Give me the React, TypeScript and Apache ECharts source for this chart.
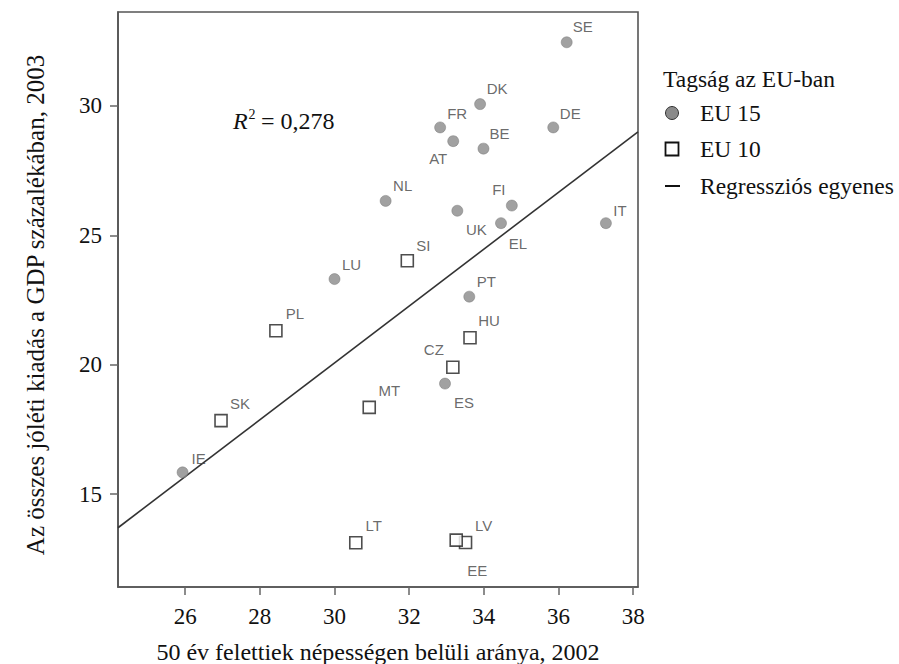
import React, { useEffect, useRef } from "react";
import * as echarts from "echarts";

// ---- data ----
const eu15Names = ["SE", "DK", "FR", "DE", "BE", "AT", "NL", "FI", "UK", "EL", "IT", "LU", "PT", "ES", "IE"];
const eu15X = [36.22, 33.9, 32.83, 35.86, 33.99, 33.18, 31.37, 34.75, 33.29, 34.46, 37.27, 30.0, 33.61, 32.96, 25.93];
const eu15Y = [32.46, 30.07, 29.17, 29.17, 28.35, 28.64, 26.33, 26.15, 25.95, 25.47, 25.47, 23.31, 22.63, 19.27, 15.84];

const eu10Names = ["SI", "PL", "HU", "CZ", "MT", "SK", "LT", "LV", "EE"];
const eu10X = [31.95, 28.43, 33.63, 33.17, 30.93, 26.96, 30.57, 33.51, 33.26];
const eu10Y = [24.02, 21.31, 21.04, 19.9, 18.35, 17.84, 13.12, 13.13, 13.22];

const regX = [24.2, 38.13];
const regY = [13.7, 29.0];

const xTicks = [26, 28, 30, 32, 34, 36, 38];
const yTicks = [15, 20, 25, 30];

const xTitle = "50 év felettiek népességen belüli aránya, 2002";
const yTitle = "Az összes jóléti kiadás a GDP százalékában, 2003";
const legendTitle = "Tagság az EU-ban";
const legendNames = ["EU 15", "EU 10", "Regressziós egyenes"];
const r2Text = "= 0,278";

// label placement (pixels, relative to the marker)
const labelOffsets: Record<string, [number, number]> = {
  SE: [16, -16], DK: [17, -16], FR: [17, -14], DE: [17, -14], BE: [16, -15],
  AT: [-15, 17], NL: [17, -15], FI: [-13, -16], UK: [19, 19], EL: [17, 20],
  IT: [14, -13], LU: [17, -15], PT: [17, -15], ES: [19, 19], IE: [16, -14],
  SI: [16, -15], PL: [19, -17], HU: [19, -17], CZ: [-19, -18], MT: [20, -17],
  SK: [19, -17], LT: [18, -17], LV: [18, -17], EE: [21, 30],
};

const SERIF = "'Liberation Serif', 'Times New Roman', serif";
const SANS = "'Liberation Sans', Arial, sans-serif";

function points(names: string[], xs: number[], ys: number[]) {
  return names.map((n, i) => ({
    name: n,
    value: [xs[i], ys[i]],
    label: { offset: labelOffsets[n] || [0, 0] },
  }));
}

export default function App() {
  const ref = useRef<HTMLDivElement>(null);
  useEffect(() => {
    if (!ref.current) return;
    const chart = echarts.init(ref.current, null, { renderer: "svg" });
    const labelStyle = {
      show: true,
      position: "inside",
      formatter: "{b}",
      fontFamily: SANS,
      fontSize: 15,
      color: "#444",
    };
    const legX = 672;
    chart.setOption({
      animation: false,
      backgroundColor: "#fff",
      grid: {
        left: 118,
        right: 899 - 638,
        top: 12,
        bottom: 664 - 587,
        show: true,
        borderColor: "#555",
        borderWidth: 1.6,
      },
      xAxis: {
        type: "value",
        min: 24.2,
        max: 38.13,
        axisLine: { show: true, lineStyle: { color: "#555", width: 1.6 } },
        axisTick: { show: true, customValues: xTicks, length: 8, lineStyle: { color: "#666", width: 1.5 } },
        axisLabel: { customValues: xTicks, margin: 18, fontFamily: SERIF, fontSize: 23, color: "#111" },
        splitLine: { show: false },
      },
      yAxis: {
        type: "value",
        min: 11.41,
        max: 33.63,
        axisLine: { show: true, lineStyle: { color: "#555", width: 1.6 } },
        axisTick: { show: true, customValues: yTicks, length: 8, lineStyle: { color: "#666", width: 1.5 } },
        axisLabel: { customValues: yTicks, margin: 16, fontFamily: SERIF, fontSize: 23, color: "#111" },
        splitLine: { show: false },
      },
      series: [
        {
          name: legendNames[2],
          type: "line",
          data: regX.map((x, i) => [x, regY[i]]),
          symbol: "none",
          lineStyle: { color: "#333", width: 1.6 },
          z: 1,
        },
        {
          name: legendNames[0],
          type: "scatter",
          symbol: "circle",
          symbolSize: 11,
          itemStyle: { color: "#8a8a8a", borderColor: "#777", borderWidth: 0.6 },
          label: labelStyle,
          data: points(eu15Names, eu15X, eu15Y),
          z: 3,
        },
        {
          name: legendNames[1],
          type: "scatter",
          symbol: "rect",
          symbolSize: 12,
          itemStyle: { color: "#fff", borderColor: "#222", borderWidth: 1.6 },
          label: labelStyle,
          data: points(eu10Names, eu10X, eu10Y),
          z: 3,
        },
      ],
      graphic: [
        // axis titles
        {
          type: "text",
          x: 378,
          y: 652,
          style: { text: xTitle, font: `24px ${SERIF}`, fill: "#111", align: "center", verticalAlign: "middle" },
        },
        {
          type: "text",
          x: 35,
          y: 305,
          rotation: Math.PI / 2,
          style: { text: yTitle, font: `25px ${SERIF}`, fill: "#111", align: "center", verticalAlign: "middle" },
        },
        // R^2 annotation
        {
          type: "text",
          x: 233,
          y: 121,
          style: { text: "R", font: `italic 24px ${SERIF}`, fill: "#111", align: "left", verticalAlign: "middle" },
        },
        {
          type: "text",
          x: 248.5,
          y: 114,
          style: { text: "2", font: `14px ${SERIF}`, fill: "#111", align: "left", verticalAlign: "middle" },
        },
        {
          type: "text",
          x: 261,
          y: 121,
          style: { text: r2Text, font: `24px ${SERIF}`, fill: "#111", align: "left", verticalAlign: "middle" },
        },
        // legend
        {
          type: "text",
          x: 663,
          y: 79,
          style: { text: legendTitle, font: `23.5px ${SERIF}`, fill: "#111", align: "left", verticalAlign: "middle" },
        },
        {
          type: "circle",
          shape: { cx: legX, cy: 113, r: 6.5 },
          style: { fill: "#8a8a8a", stroke: "#333", lineWidth: 1 },
        },
        {
          type: "text",
          x: 700,
          y: 113,
          style: { text: legendNames[0], font: `23.5px ${SERIF}`, fill: "#111", align: "left", verticalAlign: "middle" },
        },
        {
          type: "rect",
          shape: { x: legX - 6.5, y: 149 - 6.5, width: 13, height: 13 },
          style: { fill: "#fff", stroke: "#111", lineWidth: 1.8 },
        },
        {
          type: "text",
          x: 700,
          y: 149,
          style: { text: legendNames[1], font: `23.5px ${SERIF}`, fill: "#111", align: "left", verticalAlign: "middle" },
        },
        {
          type: "line",
          shape: { x1: 665, y1: 186, x2: 680, y2: 186 },
          style: { stroke: "#111", lineWidth: 2 },
        },
        {
          type: "text",
          x: 700,
          y: 186,
          style: { text: legendNames[2], font: `23.5px ${SERIF}`, fill: "#111", align: "left", verticalAlign: "middle" },
        },
      ],
    });
    return () => chart.dispose();
  }, []);
  return (
    <div
      ref={ref}
      style={{ position: "fixed", left: 0, top: 0, width: 899, height: 664, background: "#fff" }}
    />
  );
}
